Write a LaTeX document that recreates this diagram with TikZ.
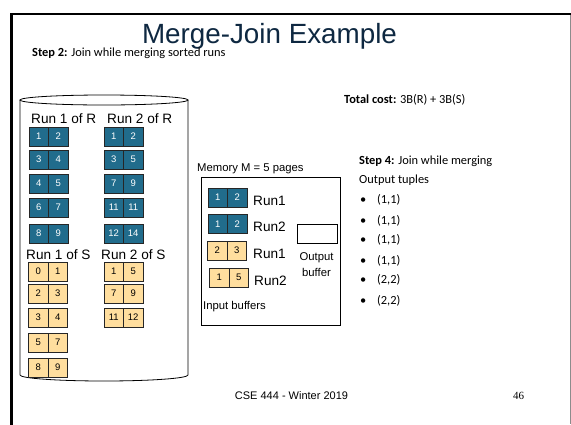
\documentclass[tikz,border=0pt]{standalone}
\usepackage{fontspec}
\setmainfont{Carlito}
\newfontfamily\arialfont{Liberation Sans}
\newfontfamily\numfont{Liberation Serif}
\definecolor{titlenavy}{RGB}{14,40,65}
\definecolor{pageblue}{RGB}{33,108,140}
\definecolor{pageyellow}{RGB}{255,222,158}
\definecolor{framegray}{RGB}{140,140,140}
\tikzset{
  page/.style={rectangle, draw=black!85, line width=0.7pt, minimum width=19.5pt,
    minimum height=19pt, inner sep=0pt, font=\arialfont\fontsize{9.5}{10}\selectfont},
  pageR/.style={page, fill=pageblue, text=white},
  pageS/.style={page, fill=pageyellow, text=black},
  body/.style={anchor=base west, inner sep=0pt, font=\fontsize{12.4}{14}\selectfont},
  runlabel/.style={anchor=base west, inner sep=0pt, font=\arialfont\fontsize{13.6}{15}\selectfont},
  small/.style={anchor=base west, inner sep=0pt, font=\arialfont\fontsize{11.3}{13}\selectfont},
}
% two-tuple page: name, left x, top y, first value, second value, style
\newcommand\pagepair[6]{%
  \node[#6] (#1a) at ({#2+9.75},{#3+9.5}) {#4};
  \node[#6] (#1b) at ({#2+29.25},{#3+9.5}) {#5};
}
\begin{document}
\begin{tikzpicture}[x=1pt,y=-1pt]
\path[use as bounding box, fill=white] (0,0) rectangle (571,424);

% slide frame
\draw[black, line width=2.2pt, line cap=rect] (11.5,424) -- (11.5,14) -- (569.5,14);
\draw[framegray, line width=0.8pt] (570,15) -- (570,424);

% title
\node[anchor=base, inner sep=0pt, text=titlenavy, font=\arialfont\fontsize{27.8}{30}\selectfont]
  (title) at (269.5,43.5) {Merge-Join Example};

% disk
\draw[black, line width=0.8pt] (20,100) -- (20,375) arc[start angle=180, end angle=0, x radius=84, y radius=6] -- (188,100);
\draw[black, line width=0.8pt, fill=white] (104,100) ellipse[x radius=84, y radius=5];

\node[runlabel] (lr1) at (31,123) {Run 1 of R};
\node[runlabel] (lr2) at (107,123) {Run 2 of R};
\node[runlabel] (ls1) at (26,259) {Run 1 of S};
\node[runlabel] (ls2) at (101,259) {Run 2 of S};

\pagepair{ra}{29}{127}{1}{2}{pageR}
\pagepair{rb}{29}{150}{3}{4}{pageR}
\pagepair{rc}{29}{174}{4}{5}{pageR}
\pagepair{rd}{29}{198}{6}{7}{pageR}
\pagepair{re}{29}{224}{8}{9}{pageR}
\pagepair{qa}{104}{127}{1}{2}{pageR}
\pagepair{qb}{104}{150}{3}{5}{pageR}
\pagepair{qc}{104}{174}{7}{9}{pageR}
\pagepair{qd}{104}{198}{11}{11}{pageR}
\pagepair{qe}{104}{224}{12}{14}{pageR}

\pagepair{sa}{28.5}{262}{0}{1}{pageS}
\pagepair{sb}{28.5}{284}{2}{3}{pageS}
\pagepair{sc}{28.5}{308}{3}{4}{pageS}
\pagepair{sd}{28.5}{333}{5}{7}{pageS}
\pagepair{se}{28.5}{358}{8}{9}{pageS}
\pagepair{ta}{104}{262}{1}{5}{pageS}
\pagepair{tb}{104}{284}{7}{9}{pageS}
\pagepair{tc}{104}{308}{11}{12}{pageS}

% memory
\node[small] (memlabel) at (197,171) {Memory M = 5 pages};
\draw[black, line width=0.8pt] (201,177) rectangle (340,325);
\pagepair{ma}{208}{188}{1}{2}{pageR}
\pagepair{mb}{208}{214.5}{1}{2}{pageR}
\pagepair{mc}{207.5}{241}{2}{3}{pageS}
\pagepair{md}{209.5}{268}{1}{5}{pageS}
\node[runlabel] (m1) at (253,205) {Run1};
\node[runlabel] (m2) at (253,231.5) {Run2};
\node[runlabel] (m3) at (253,258.3) {Run1};
\node[runlabel] (m4) at (254,285) {Run2};
\draw[black, line width=0.8pt] (297,224) rectangle (337,243);
\node[small, anchor=base] (outl1) at (316.5,260) {Output};
\node[small, anchor=base] (outl2) at (316.5,276.7) {buffer};
\node[small] (inbuf) at (203,309) {Input buffers};

% captions
\node[body] (step2) at (32,56) {\textbf{Step 2:} Join while merging sorted runs};
\node[body] (cost) at (344,103.5) {\textbf{Total cost:} 3B(R) + 3B(S)};
\node[body] (step4) at (359,164) {\textbf{Step 4:} Join while merging};
\node[body] (outt) at (359,183) {Output tuples};
\node[body] (bul1) at (360,203.5) {•};
\node[body] (bul2) at (360,224.5) {•};
\node[body] (bul3) at (360,243.5) {•};
\node[body] (bul4) at (360,264.5) {•};
\node[body] (bul5) at (360,283.5) {•};
\node[body] (bul6) at (360,304.5) {•};
\node[body] (tup1) at (377,203.5) {(1,1)};
\node[body] (tup2) at (377,224.5) {(1,1)};
\node[body] (tup3) at (377,243.5) {(1,1)};
\node[body] (tup4) at (377,264.5) {(1,1)};
\node[body] (tup5) at (377,283.5) {(2,2)};
\node[body] (tup6) at (377,304.5) {(2,2)};

% footer
\node[anchor=base, inner sep=0pt, font=\arialfont\fontsize{11}{12}\selectfont] (foot) at (291.5,399.5) {CSE 444 - Winter 2019};
\node[anchor=base, inner sep=0pt, font=\numfont\fontsize{11}{12}\selectfont] (pagenum) at (518.5,399.5) {46};
\end{tikzpicture}
\end{document}
